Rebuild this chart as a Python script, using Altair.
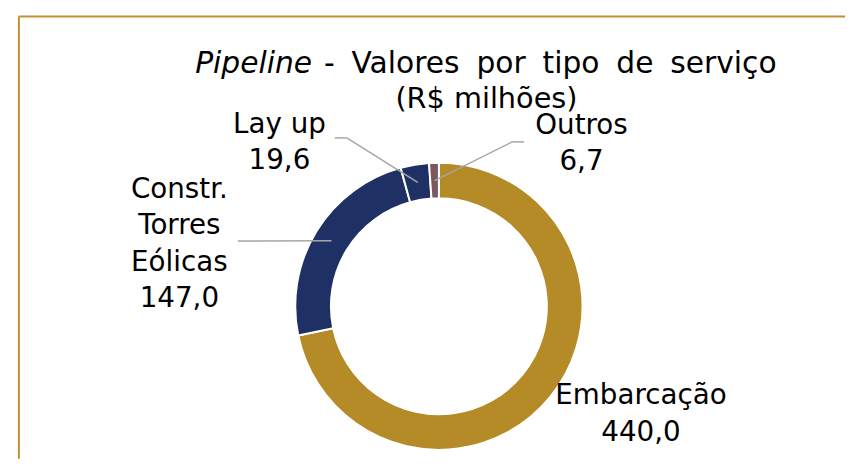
import math
import altair as alt
import pandas as pd

# ---- data ----
categories = ["Embarcação", "Constr.\nTorres\nEólicas", "Lay up", "Outros"]
values = [440.0, 147.0, 19.6, 6.7]
value_labels = ["440,0", "147,0", "19,6", "6,7"]
slice_colors = ["#B58B27", "#1F3064", "#1F3064", "#7A585D"]

title_italic = "Pipeline"
title_rest_words = ["-", "Valores", "por", "tipo", "de", "serviço"]
title_line2 = "(R$ milhões)"

# ---- layout (chart pixel space) ----
W, H = 845, 453
CX, CY = 435, 299
R_OUT, R_IN = 145, 109
R_LEAD = 127
FONT = "DejaVu Sans"
FS = 28
LH = 36.5
GAP = "\u00a0\u2005"

# label anchors: centre x, first-line baseline y
label_pos = {
    "Embarcação": (639, 398),
    "Constr.\nTorres\nEólicas": (173, 190),
    "Lay up": (274, 124),
    "Outros": (579, 125),
}
# leader lines: list of points before the slice point
leader_pts = {
    "Constr.\nTorres\nEólicas": [(232, 233)],
    "Lay up": [(330, 129), (342, 129)],
    "Outros": [(521, 133), (509, 133)],
}

total = sum(values)
ids = list(range(len(categories)))
df = pd.DataFrame({"id": ids, "cat": categories, "value": values})

# slice midpoints (clockwise from 12 o'clock)
mids = {}
cum = 0.0
for c, v in zip(categories, values):
    a = (cum + v / 2) / total * 2 * math.pi
    mids[c] = (CX + R_LEAD * math.sin(a), CY - R_LEAD * math.cos(a))
    cum += v

seg_rows = []
for c, pts in leader_pts.items():
    chain = pts + [mids[c]]
    for (x1, y1), (x2, y2) in zip(chain[:-1], chain[1:]):
        seg_rows.append({"x1": x1, "y1": y1, "x2": x2, "y2": y2})
segs = pd.DataFrame(seg_rows)

lab = pd.DataFrame({
    "txt": [c + "\n" + v for c, v in zip(categories, value_labels)],
    "x": [label_pos[c][0] for c in categories],
    "y": [label_pos[c][1] for c in categories],
})

arc = alt.Chart(df).mark_arc(
    innerRadius=R_IN, outerRadius=R_OUT, stroke="white", strokeWidth=2
).encode(
    theta=alt.Theta("value:Q", stack=True),
    order=alt.Order("id:Q"),
    color=alt.Color("id:N", scale=alt.Scale(domain=ids, range=slice_colors), legend=None),
    x=alt.value(CX),
    y=alt.value(CY),
)

leaders = alt.Chart(segs).mark_rule(color="#A6A6A6", strokeWidth=1.5).encode(
    x=alt.X("x1:Q", scale=None, axis=None),
    y=alt.Y("y1:Q", scale=None, axis=None),
    x2="x2:Q",
    y2="y2:Q",
)

labels = alt.Chart(lab).mark_text(
    font=FONT, fontSize=FS, lineBreak="\n", lineHeight=LH,
    align="center", baseline="alphabetic", color="#000000"
).encode(
    x=alt.X("x:Q", scale=None, axis=None),
    y=alt.Y("y:Q", scale=None, axis=None),
    text="txt:N",
)

tdf = pd.DataFrame({
    "t": [title_italic],
    "r": [GAP.join(title_rest_words)],
    "l2": [title_line2],
})
SPLIT_X = 307
T1_Y = 63
t1 = alt.Chart(tdf).mark_text(
    font=FONT, fontSize=30, fontStyle="italic", align="right", baseline="alphabetic"
).encode(x=alt.value(SPLIT_X), y=alt.value(T1_Y), text="t:N")
t2 = alt.Chart(tdf).mark_text(
    font=FONT, fontSize=30, align="left", baseline="alphabetic"
).encode(x=alt.value(SPLIT_X + 12), y=alt.value(T1_Y), text="r:N")
t3 = alt.Chart(tdf).mark_text(
    font=FONT, fontSize=29, align="center", baseline="alphabetic"
).encode(x=alt.value(483), y=alt.value(99), text="l2:N")

border_col = "#BF9132"
b_top = alt.Chart(tdf).mark_rule(color=border_col, strokeWidth=2).encode(
    x=alt.value(11), x2=alt.value(W), y=alt.value(6.5)
)
b_left = alt.Chart(tdf).mark_rule(color=border_col, strokeWidth=2).encode(
    x=alt.value(11), y=alt.value(6.5), y2=alt.value(H)
)

chart = alt.layer(b_top, b_left, arc, leaders, labels, t1, t2, t3).properties(
    width=W, height=H, padding=0, autosize="none"
).configure_view(strokeWidth=0)

chart.save("out.html", embed_options={"renderer": "svg", "actions": False})
